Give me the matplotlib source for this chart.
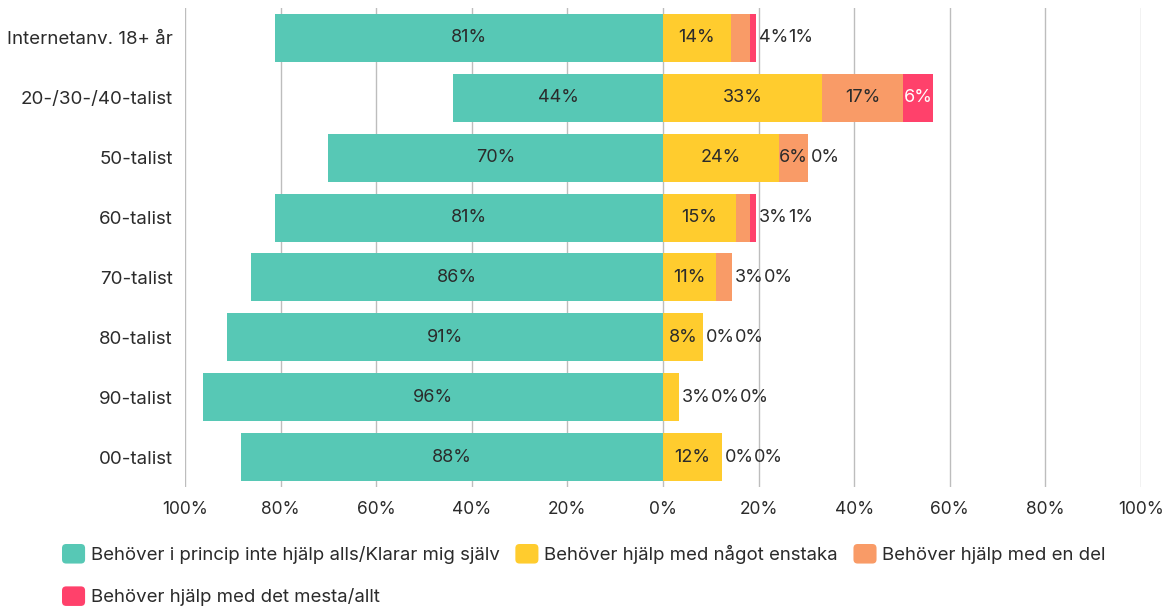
import numpy as np
import matplotlib.pyplot as plt
from matplotlib.patches import FancyBboxPatch, Patch
from matplotlib.legend_handler import HandlerPatch

plt.rcParams['font.family'] = ['Inter', 'DejaVu Sans']
plt.rcParams['font.size'] = 13

# Data
categories = ["Internetanv. 18+ år", "20-/30-/40-talist", "50-talist", "60-talist",
              "70-talist", "80-talist", "90-talist", "00-talist"]
klarar_sig = [81.2, 43.9, 70.1, 81.2, 86.2, 91.2, 96.2, 88.3]
enstaka = [14.2, 33.3, 24.3, 15.3, 11.1, 8.4, 3.3, 12.3]
en_del = [4.0, 16.9, 6.0, 2.9, 3.3, 0.0, 0.0, 0.0]
mesta = [1.3, 6.3, 0.0, 1.3, 0.0, 0.0, 0.0, 0.0]

series_names = ["Behöver i princip inte hjälp alls/Klarar mig själv",
                "Behöver hjälp med något enstaka",
                "Behöver hjälp med en del",
                "Behöver hjälp med det mesta/allt"]
colors = ["#57c8b5", "#ffcc2e", "#f99b67", "#ff416b"]
text_col = "#2b2b2b"

fig = plt.figure(figsize=(11.74, 6.07), dpi=100)
ax = fig.add_axes([185 / 1174, 1 - 487 / 607, (1141 - 185) / 1174, (487 - 8) / 607])

y = np.arange(len(categories))
h = 0.8

# left side (negative)
left = -np.array(klarar_sig)
ax.barh(y, left, height=h, color=colors[0], zorder=3)
for yi, v in zip(y, klarar_sig):
    ax.text(-v / 2, yi, f"{round(v)}%", ha="center", va="center", color=text_col, zorder=4)

# right side stacked
right_series = [enstaka, en_del, mesta]
start = np.zeros(len(categories))
for s, c in zip(right_series, colors[1:]):
    ax.barh(y, s, left=start, height=h, color=c, zorder=3)
    start = start + np.array(s)
totals = start

# labels for right side: inside if wide enough, else outside after bar end
for i in range(len(categories)):
    pos = 0.0
    out_x = totals[i] + 0.6
    for k, s in enumerate(right_series):
        v = s[i]
        lab = f"{round(v)}%"
        if v >= 5:
            col = "white" if k == 2 else text_col
            ax.text(pos + v / 2, y[i], lab, ha="center", va="center", color=col, zorder=4)
        else:
            ax.text(out_x, y[i], lab, ha="left", va="center", color=text_col, zorder=4)
            out_x += 6.1
        pos += v

ax.set_xlim(-100, 100)
ax.set_ylim(len(categories) - 0.5, -0.5)
ticks = np.arange(-100, 101, 20)
ax.set_xticks(ticks)
ax.set_xticklabels([f"{abs(t)}%" for t in ticks], color=text_col, fontsize=12.5)
ax.set_yticks(y)
ax.set_yticklabels(categories, color=text_col, fontsize=13.5)
ax.tick_params(axis="both", length=0)
ax.tick_params(axis="y", pad=9)
ax.tick_params(axis="x", pad=10)
ax.grid(axis="x", color="#bdbdbd", linewidth=1, zorder=0)
ax.set_axisbelow(True)
for sp in ax.spines.values():
    sp.set_visible(False)


class RoundHandler(HandlerPatch):
    def create_artists(self, legend, orig_handle, xdescent, ydescent, width, height, fontsize, trans):
        p = FancyBboxPatch((-xdescent, -ydescent), width, height,
                           boxstyle="round,pad=0,rounding_size=3",
                           facecolor=orig_handle.get_facecolor(), edgecolor="none", transform=trans)
        return [p]


handles = [Patch(facecolor=c) for c in colors]
order = [0, 3, 1, 2]
leg = fig.legend([handles[i] for i in order], [series_names[i] for i in order],
                 ncol=3, loc="upper left", bbox_to_anchor=(62 / 1174, 1 - 544 / 607),
                 frameon=False, fontsize=13.4, handlelength=1.24, handleheight=1.24,
                 handletextpad=0.3, columnspacing=0.85, labelspacing=1.2,
                 borderaxespad=0, borderpad=0,
                 handler_map={Patch: RoundHandler()}, labelcolor=text_col)

fig.savefig("out.png", dpi=100)
